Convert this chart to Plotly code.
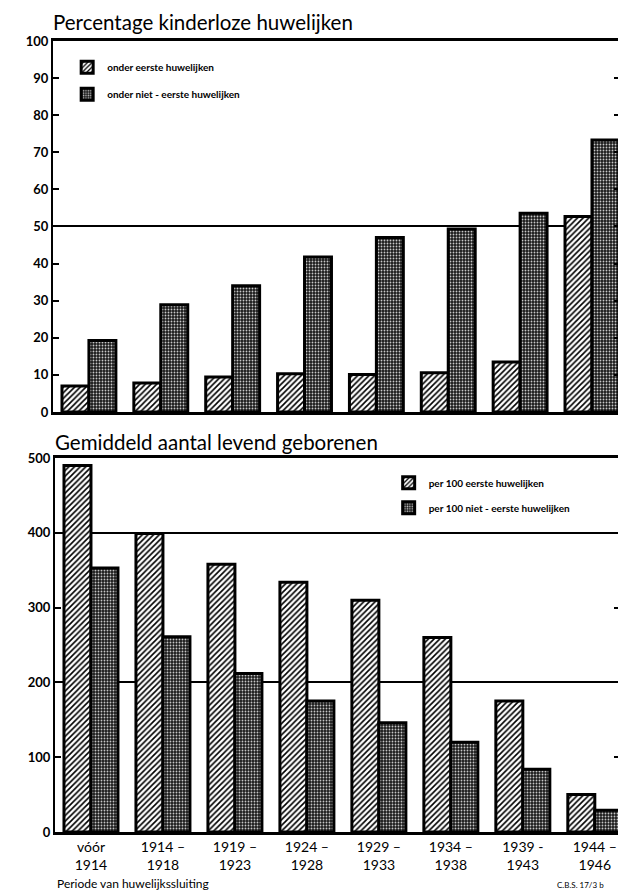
import plotly.graph_objects as go

categories = ["vóór<br>1914", "1914 –<br>1918", "1919 –<br>1923", "1924 –<br>1928",
              "1929 –<br>1933", "1934 –<br>1938", "1939 -<br>1943", "1944 –<br>1946"]
pct_eerste = [7.0, 7.8, 9.4, 10.3, 10.1, 10.6, 13.5, 52.7]
pct_niet = [19.3, 28.9, 34.0, 41.8, 47.0, 49.3, 53.6, 73.3]
geb_eerste = [490, 399, 358, 334, 310, 260, 175, 50]
geb_niet = [353, 261, 212, 175, 146, 120, 84, 29]

name_top = ["onder eerste huwelijken", "onder niet - eerste huwelijken"]
name_bot = ["per 100 eerste huwelijken", "per 100 niet - eerste huwelijken"]

FONT = "Lato"
hatch = dict(shape="/", fgcolor="black", bgcolor="white", size=4, solidity=0.4, fillmode="replace")
dots = dict(shape=".", fgcolor="#c8c8c8", bgcolor="#1a1a1a", size=3, solidity=0.3, fillmode="replace")
line = dict(color="black", width=3)

fig = go.Figure()
# invisible helper traces so the overlaid grid axes are rendered
fig.add_trace(go.Scatter(x=categories, y=pct_niet, xaxis="x", yaxis="y3", mode="lines",
                         line=dict(width=0), opacity=0, showlegend=False, hoverinfo="skip"))
fig.add_trace(go.Scatter(x=categories, y=geb_eerste, xaxis="x2", yaxis="y4", mode="lines",
                         line=dict(width=0), opacity=0, showlegend=False, hoverinfo="skip"))

fig.add_trace(go.Bar(x=categories, y=pct_eerste, name=name_top[0], xaxis="x", yaxis="y",
                     marker=dict(color="white", pattern=hatch, line=line), legend="legend",
                     legendgroup="a"))
fig.add_trace(go.Bar(x=categories, y=pct_niet, name=name_top[1], xaxis="x", yaxis="y",
                     marker=dict(color="#1a1a1a", pattern=dots, line=line), legend="legend",
                     legendgroup="b"))
fig.add_trace(go.Bar(x=categories, y=geb_eerste, name=name_bot[0], xaxis="x2", yaxis="y2",
                     marker=dict(color="white", pattern=hatch, line=line), legend="legend2",
                     legendgroup="c"))
fig.add_trace(go.Bar(x=categories, y=geb_niet, name=name_bot[1], xaxis="x2", yaxis="y2",
                     marker=dict(color="#1a1a1a", pattern=dots, line=line), legend="legend2",
                     legendgroup="d"))

tickfont = dict(family=FONT, size=13, color="black", weight="bold")
common_y = dict(showline=True, linecolor="black", linewidth=2, mirror="ticks", ticks="inside",
                ticklen=6, tickwidth=2, tickcolor="black", showgrid=False, zeroline=False,
                tickfont=tickfont, fixedrange=True)
grid_y = dict(showgrid=True, gridcolor="black", gridwidth=1.5, showticklabels=False,
              ticks="", showline=False, zeroline=False)

# the page body adds an 8px offset at top-left; the figure is sized to fit the window
fig.update_layout(
    width=618, height=885,
    margin=dict(l=45, r=4, t=33, b=61),
    paper_bgcolor="white", plot_bgcolor="white",
    bargap=0.25, bargroupgap=0,
    barmode="group",
    xaxis=dict(domain=[0, 1], anchor="y", range=[-0.5, 7.39], showticklabels=False,
               showline=True, linecolor="black", linewidth=3, mirror=True, ticks=""),
    yaxis=dict(domain=[0.531, 1], anchor="x", range=[0, 100], dtick=10, **common_y),
    yaxis3=dict(overlaying="y", range=[0, 100], dtick=50, anchor="x", **grid_y),
    xaxis2=dict(domain=[0.0035, 1], anchor="y2", range=[-0.5, 7.35], showline=True,
                linecolor="black", linewidth=3, mirror=True, ticks="",
                tickfont=dict(family=FONT, size=14, color="black")),
    yaxis2=dict(domain=[0, 0.4728], anchor="x2", range=[0, 500], dtick=100, **common_y),
    yaxis4=dict(overlaying="y2", range=[0, 500], dtick=200, anchor="x2", **grid_y),
    legend=dict(x=0.025, y=0.985, xanchor="left", yanchor="top", bgcolor="rgba(0,0,0,0)",
                font=dict(family=FONT, size=10, color="black", weight="bold"),
                tracegroupgap=8),
    legend2=dict(x=0.592, y=0.46, xanchor="left", yanchor="top", bgcolor="rgba(0,0,0,0)",
                 font=dict(family=FONT, size=10, color="black", weight="bold"),
                 tracegroupgap=6),
    annotations=[
        dict(text="Percentage kinderloze huwelijken", xref="paper", yref="paper", x=0, y=1.024,
             xanchor="left", yanchor="middle", xshift=-2, showarrow=False,
             font=dict(family=FONT, size=20.5, color="black")),
        dict(text="Gemiddeld aantal levend geborenen", xref="paper", yref="paper", x=0, y=0.493,
             xanchor="left", yanchor="middle", showarrow=False,
             font=dict(family=FONT, size=20.5, color="black")),
        dict(text="Periode van huwelijkssluiting", xref="paper", yref="paper", x=0, y=-0.0645,
             xanchor="left", yanchor="middle", xshift=2, showarrow=False,
             font=dict(family=FONT, size=12, color="black")),
        dict(text="C.B.S. 17/3 b", xref="paper", yref="paper", x=0.886, y=-0.067,
             xanchor="left", yanchor="middle", showarrow=False,
             font=dict(family=FONT, size=8, color="black")),
    ],
)

fig.write_html("out.html")
